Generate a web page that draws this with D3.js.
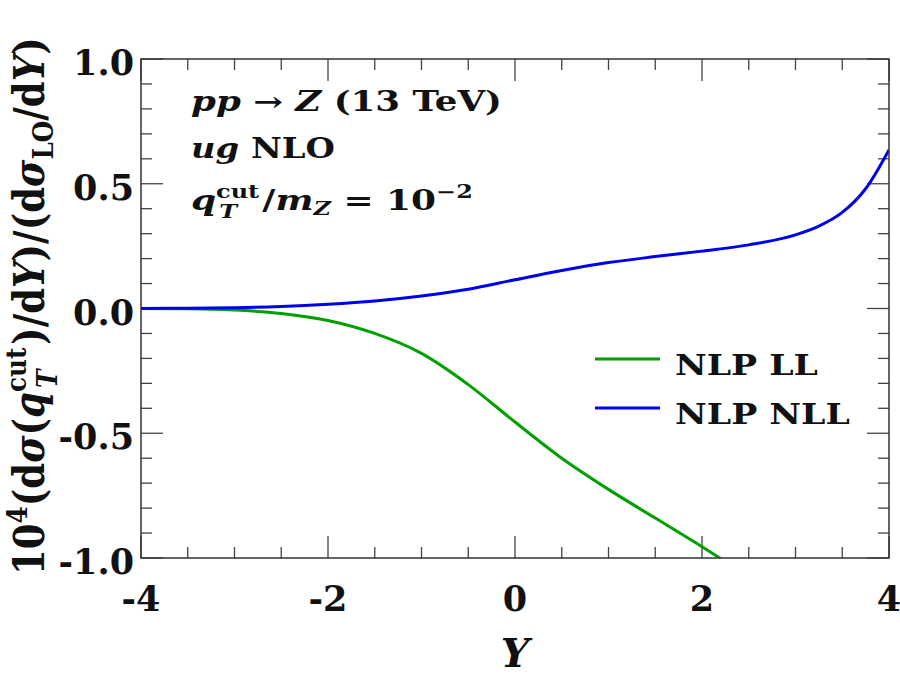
<!DOCTYPE html>
<html>
<head>
<meta charset="utf-8">
<script src="https://cdn.jsdelivr.net/npm/d3@7"></script>
<style>
  body { margin: 0; background: white; }
  text { font-family: "DejaVu Serif", serif; font-weight: bold; fill: #111; }
</style>
</head>
<body>
<div id="chart"></div>
<script>
// rapidity grid and the two NLP curves (units of 1e-4)
var rapidity = [-4, -3.5, -3, -2.5, -2, -1.5, -1, -0.5, 0, 0.5, 1, 1.5, 2, 2.5, 3, 3.25, 3.5, 3.75, 4];
var nlpLL = [0, -0.001, -0.006, -0.02, -0.048, -0.1, -0.18, -0.305, -0.455, -0.6, -0.725, -0.84, -0.955, -1.075, null, null, null, null, null];
var nlpNLL = [0, 0.001, 0.003, 0.008, 0.017, 0.03, 0.05, 0.077, 0.115, 0.152, 0.184, 0.208, 0.23, 0.255, 0.295, 0.33, 0.385, 0.48, 0.636];

var xMajor = [-4, -2, 0, 2, 4];
var yMajor = [-1.0, -0.5, 0.0, 0.5, 1.0];
var seriesNames = ["NLP LL", "NLP NLL"];
var seriesColors = ["#00a000", "#0000f0"];

const width = 900;
const height = 682;
const margin = { top: 59, right: 11, bottom: 124, left: 141 };

const svg = d3.select("#chart")
  .append("svg")
  .attr("width", width)
  .attr("height", height);

const x = d3.scaleLinear().domain([-4, 4]).range([margin.left, width - margin.right]);
const y = d3.scaleLinear().domain([-1, 1]).range([height - margin.bottom, margin.top]);

/* clip */
svg.append("clipPath").attr("id", "clip")
  .append("rect")
  .attr("x", x(-4)).attr("y", y(1))
  .attr("width", x(4) - x(-4)).attr("height", y(-1) - y(1));

/* ticks, drawn inward on all four sides */
const xMinor = d3.range(-4, 4.001, 0.5);
const yMinor = d3.range(-1, 1.001, 0.1);
const isMajorX = (v) => Math.abs(v / 2 - Math.round(v / 2)) < 1e-6;
const isMajorY = (v) => Math.abs(v / 0.5 - Math.round(v / 0.5)) < 1e-6;

const ticks = svg.append("g").attr("stroke", "#444").attr("stroke-width", 1.3);
xMinor.forEach((v) => {
  const len = isMajorX(v) ? 22 : 11;
  ticks.append("line").attr("x1", x(v)).attr("x2", x(v)).attr("y1", y(-1)).attr("y2", y(-1) - len);
  ticks.append("line").attr("x1", x(v)).attr("x2", x(v)).attr("y1", y(1)).attr("y2", y(1) + len);
});
yMinor.forEach((v) => {
  const len = isMajorY(v) ? 22 : 11;
  ticks.append("line").attr("x1", x(-4)).attr("x2", x(-4) + len).attr("y1", y(v)).attr("y2", y(v));
  ticks.append("line").attr("x1", x(4)).attr("x2", x(4) - len).attr("y1", y(v)).attr("y2", y(v));
});

/* tick labels */
svg.append("g").selectAll("text")
  .data(xMajor)
  .join("text")
  .attr("x", (d) => x(d))
  .attr("y", y(-1) + 53)
  .attr("text-anchor", "middle")
  .attr("font-size", 35)
  .text((d) => (d < 0 ? "-" + Math.abs(d) : d));

svg.append("g").selectAll("text")
  .data(yMajor)
  .join("text")
  .attr("x", x(-4) - 7)
  .attr("y", (d) => y(d) + 16)
  .attr("text-anchor", "end")
  .attr("font-size", 35)
  .text((d) => (d < 0 ? "-" + Math.abs(d).toFixed(1) : d.toFixed(1)));

/* curves */
const line = d3.line()
  .defined((d) => d[1] !== null)
  .x((d) => x(d[0]))
  .y((d) => y(d[1]))
  .curve(d3.curveMonotoneX);

[nlpLL, nlpNLL].forEach((vals, i) => {
  svg.append("path")
    .datum(rapidity.map((r, k) => [r, vals[k]]))
    .attr("clip-path", "url(#clip)")
    .attr("fill", "none")
    .attr("stroke", seriesColors[i])
    .attr("stroke-width", 3)
    .attr("d", line);
});

/* frame */
svg.append("rect")
  .attr("x", x(-4)).attr("y", y(1))
  .attr("width", x(4) - x(-4)).attr("height", y(-1) - y(1))
  .attr("fill", "none")
  .attr("stroke", "#333")
  .attr("stroke-width", 1.5);

// stretch a text horizontally so that it spans a given width
function fitWidth(t, x0, y0, w) {
  const bw = t.node().getBBox().width;
  t.attr("transform", `translate(${x0},${y0}) scale(${w / bw},1)`);
}

/* legend */
seriesNames.forEach((name, i) => {
  const ly = 359 + i * 49;
  svg.append("line")
    .attr("x1", 595).attr("x2", 660).attr("y1", ly).attr("y2", ly)
    .attr("stroke", seriesColors[i]).attr("stroke-width", 3);
  const t = svg.append("text").attr("font-size", 27).text(name);
  fitWidth(t, 675, ly + 16, i == 0 ? 143 : 175);
});

/* annotation */
const l1 = svg.append("text").attr("font-size", 27);
l1.append("tspan").attr("font-style", "italic").text("pp");
l1.append("tspan").text(" \u2192 ");
l1.append("tspan").attr("font-style", "italic").text("Z");
l1.append("tspan").text(" (13 TeV)");
fitWidth(l1, 191, 111, 311);

const l2 = svg.append("text").attr("font-size", 27);
l2.append("tspan").attr("font-style", "italic").text("ug");
l2.append("tspan").text(" NLO");
fitWidth(l2, 191, 158, 144);

const l3 = svg.append("text").attr("font-size", 27);
l3.append("tspan").attr("font-style", "italic").text("q");
l3.append("tspan").attr("font-size", 18).attr("dy", -12).text("cut");
l3.append("tspan").attr("font-size", 18).attr("font-style", "italic").attr("dx", -30).attr("dy", 20).text("T");
l3.append("tspan").attr("dx", 19).attr("dy", -8).text("/");
l3.append("tspan").attr("font-style", "italic").text("m");
l3.append("tspan").attr("font-size", 18).attr("font-style", "italic").attr("dy", 5).text("Z");
l3.append("tspan").attr("dy", -5).text(" = 10");
l3.append("tspan").attr("font-size", 18).attr("dy", -12).text("\u22122");
fitWidth(l3, 191, 210, 282);

/* axis titles */
svg.append("text")
  .attr("x", x(0))
  .attr("y", 667)
  .attr("text-anchor", "middle")
  .attr("font-size", 40)
  .attr("font-style", "italic")
  .text("Y");

const yt = svg.append("text").attr("font-size", 33);
yt.append("tspan").text("10");
yt.append("tspan").attr("font-size", 22).attr("dy", -13).text("4");
yt.append("tspan").attr("dy", 13).text("(d");
yt.append("tspan").attr("font-style", "italic").text("\u03c3");
yt.append("tspan").text("(");
yt.append("tspan").attr("font-style", "italic").text("q");
yt.append("tspan").attr("font-size", 22).attr("dy", -14).text("cut");
yt.append("tspan").attr("font-size", 22).attr("font-style", "italic").attr("dx", -36).attr("dy", 24).text("T");
yt.append("tspan").attr("dx", 22).attr("dy", -10).text(")/d");
yt.append("tspan").attr("font-style", "italic").text("Y");
yt.append("tspan").text(")/(d");
yt.append("tspan").attr("font-style", "italic").text("\u03c3");
yt.append("tspan").attr("font-size", 22).attr("dy", 7).text("LO");
yt.append("tspan").attr("dy", -7).text("/d");
yt.append("tspan").attr("font-style", "italic").text("Y");
yt.append("tspan").text(")");
(function () {
  const bw = yt.node().getBBox().width;
  yt.attr("transform", `translate(44,575) rotate(-90) scale(${538 / bw},1.3)`);
})();
</script>
</body>
</html>
